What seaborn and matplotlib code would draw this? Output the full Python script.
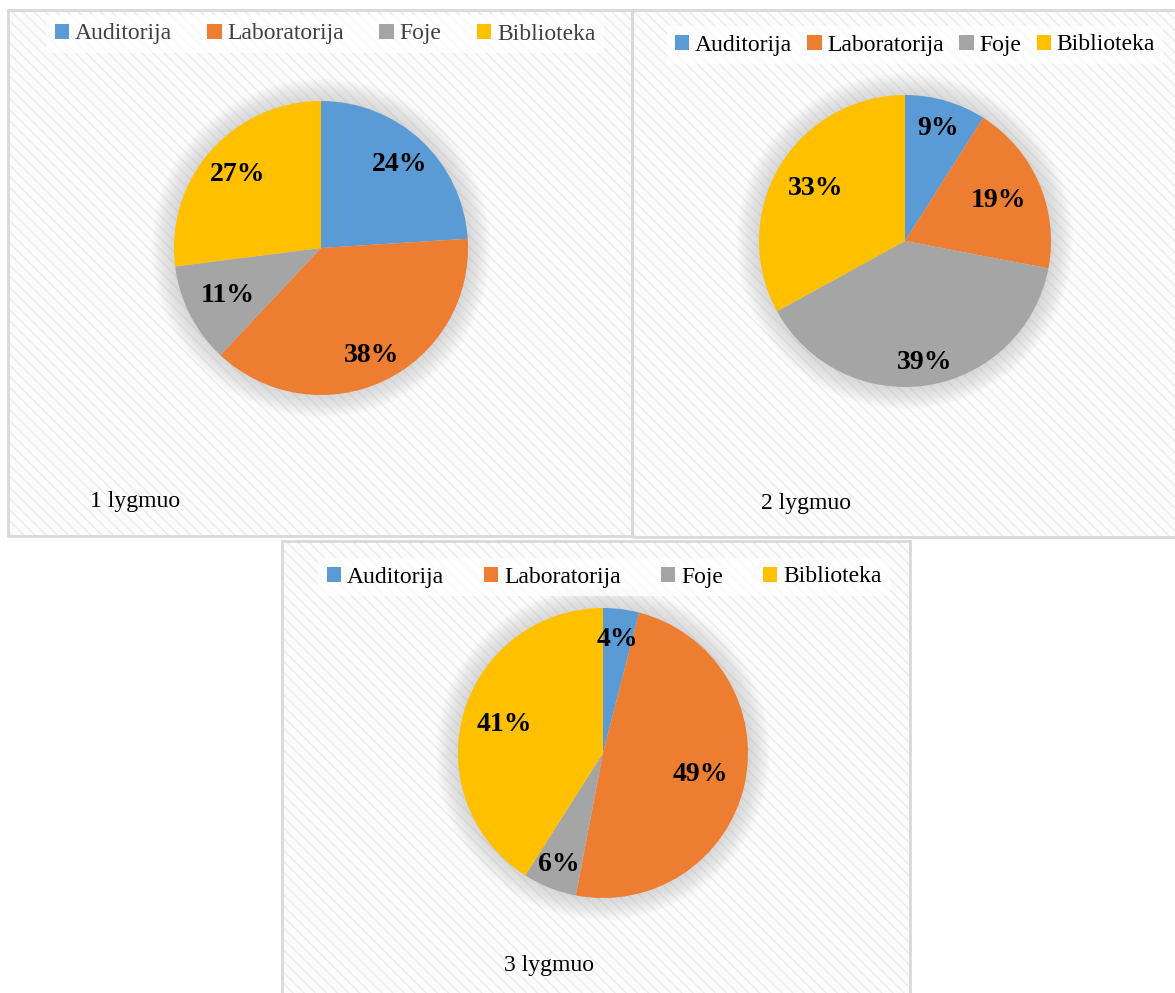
import numpy as np
import pandas as pd
import matplotlib
matplotlib.use("Agg")
import matplotlib.pyplot as plt
import seaborn as sns
from matplotlib.patches import Rectangle, Circle

# ---- data ----
categories = ["Auditorija", "Laboratorija", "Foje", "Biblioteka"]
level1 = [24, 38, 11, 27]
level2 = [9, 19, 39, 33]
level3 = [4, 49, 6, 41]
titles = ["1 lygmuo", "2 lygmuo", "3 lygmuo"]

sns.set_theme(style="white")
plt.rcParams["font.family"] = ["Liberation Serif", "DejaVu Serif"]

colors = sns.color_palette(["#5B9BD5", "#ED7D31", "#A5A5A5", "#FFC000"])

W, H = 1175, 993
fig = plt.figure(figsize=(W / 100, H / 100), dpi=100)
fig.patch.set_facecolor("white")


def frect(x0, y0, x1, y1):
    return (x0 / W, 1 - y1 / H, (x1 - x0) / W, (y1 - y0) / H)


panels = [(8, 10, 632, 536), (632, 10, 1185, 537), (282, 541, 910, 1005)]
for p in panels:
    l, b, w, h = frect(*p)
    fig.patches.append(Rectangle((l, b), w, h, transform=fig.transFigure,
                                 facecolor="#fcfcfc", edgecolor="#ebebeb",
                                 lw=0, hatch="\\\\\\", zorder=-3))
    fig.patches.append(Rectangle((l, b), w, h, transform=fig.transFigure,
                                 fill=False, edgecolor="#d9d9d9", lw=2, zorder=-2))

# label radial placement (style, fraction of radius)
pies = [
    dict(vals=level1, cx=321, cy=248, r=147, lx=325, ly=34, cs=1.5, tx=135, ty=502,
         tc="#404040", lr=[0.78, 0.81, 0.71, 0.76]),
    dict(vals=level2, cx=905, cy=241, r=146, lx=915, ly=45, cs=0.65, tx=806, ty=503,
         tc="black", lr=[0.80, 0.70, 0.84, 0.71]),
    dict(vals=level3, cx=603, cy=753, r=145, lx=604, ly=577, cs=1.7, tx=549, ty=965,
         tc="black", lr=[0.79, 0.69, 0.83, 0.71]),
]

for spec, title in zip(pies, titles):
    cx, cy, r = spec["cx"], spec["cy"], spec["r"]
    ax = fig.add_axes([(cx - 1.25 * r) / W, 1 - (cy + 1.25 * r) / H,
                       2.5 * r / W, 2.5 * r / H])
    ax.set_facecolor("none")
    df = pd.DataFrame({"cat": categories, "val": spec["vals"]})
    wedges, texts, autotexts = ax.pie(
        df["val"], colors=colors, startangle=90, counterclock=False,
        autopct=lambda p: f"{p:.0f}%", pctdistance=0.76,
        textprops=dict(fontsize=20, fontweight="bold", color="black"),
        wedgeprops=dict(linewidth=0))
    for w, t, f in zip(wedges, autotexts, spec["lr"]):
        ang = np.deg2rad((w.theta1 + w.theta2) / 2)
        t.set_position((f * np.cos(ang), f * np.sin(ang)))
    for k in range(14):
        ax.add_patch(Circle((0, 0), 1 + 0.011 * (k + 1), facecolor="gray",
                            alpha=0.02, lw=0, zorder=0))
    ax.set_xlim(-1.25, 1.25)
    ax.set_ylim(-1.25, 1.25)
    ax.set_aspect("equal")
    ax.axis("off")

    leg = fig.legend(wedges, categories, loc="center",
                     bbox_to_anchor=(spec["lx"] / W, 1 - spec["ly"] / H),
                     ncol=4, fontsize=17, frameon=True, fancybox=False,
                     facecolor="white", edgecolor="none", framealpha=0.75,
                     handlelength=0.6, handleheight=0.6, handletextpad=0.25,
                     columnspacing=spec["cs"], borderpad=0.35)
    for t in leg.get_texts():
        t.set_color(spec["tc"])

    fig.text(spec["tx"] / W, 1 - spec["ty"] / H, title, ha="center",
             va="center", fontsize=17, color="black")

fig.savefig("out.png", dpi=100, facecolor="white")
